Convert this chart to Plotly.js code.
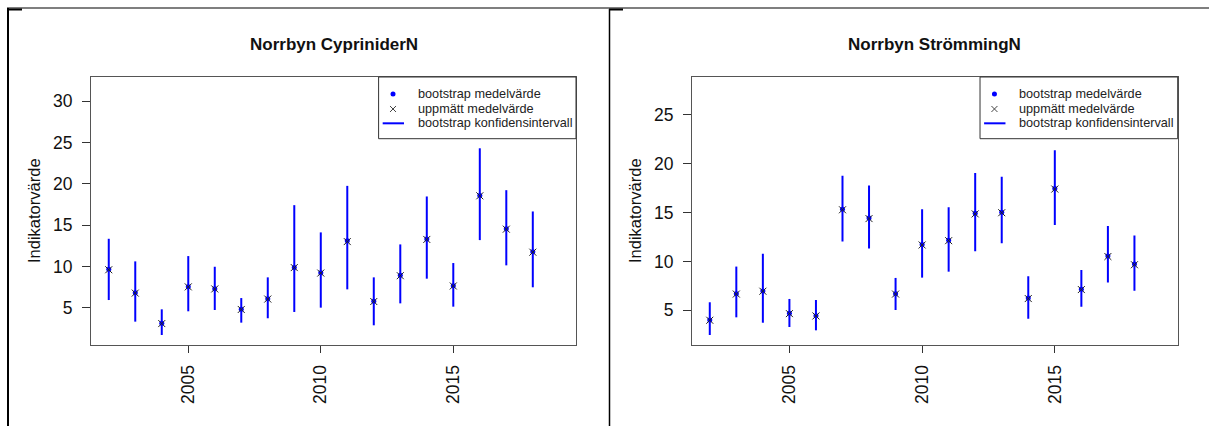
<!DOCTYPE html>
<html>
<head>
<meta charset="utf-8">
<script src="https://cdn.plot.ly/plotly-3.0.1.min.js"></script>
<style>html,body{margin:0;padding:0;background:#fff;}#chart{width:1209px;height:426px;}</style>
</head>
<body>
<div id="chart"></div>
<script>
// ---- data ----
const years = [2002,2003,2004,2005,2006,2007,2008,2009,2010,2011,2012,2013,2014,2015,2016,2017,2018];

const cypBoot = [9.67,6.85,3.15,7.57,7.33,4.84,6.12,9.90,9.26,13.12,5.81,8.94,13.32,7.69,18.59,14.56,11.79];
const cypObs  = [9.62,6.80,3.12,7.55,7.30,4.82,6.08,9.88,9.22,13.02,5.78,8.90,13.28,7.66,18.55,14.52,11.74];
const cypLo   = [5.96,3.35,1.74,4.60,4.76,3.23,3.76,4.52,5.04,7.25,2.91,5.56,8.54,5.16,13.20,10.15,7.50];
const cypHi   = [13.36,10.63,4.84,11.27,9.98,6.20,8.70,17.42,14.13,19.75,8.70,12.68,18.47,10.43,24.29,19.23,16.66];

const strBoot = [4.00,6.70,6.98,4.69,4.45,15.34,14.45,6.70,11.72,12.17,14.93,15.03,6.26,17.45,7.15,10.56,9.74];
const strObs  = [3.98,6.66,6.95,4.66,4.42,15.28,14.38,6.66,11.68,12.12,14.86,14.98,6.20,17.40,7.12,10.50,9.66];
const strLo   = [2.47,4.28,3.73,3.29,2.95,12.03,11.31,5.03,8.34,8.95,11.04,11.86,4.14,13.73,5.37,7.83,7.00];
const strHi   = [5.82,9.47,10.77,6.16,6.05,18.75,17.76,8.31,15.34,15.55,19.03,18.65,8.48,21.38,9.13,13.63,12.64];

const titles = ["Norrbyn CypriniderN", "Norrbyn StrömmingN"];
const yTitle = "Indikatorvärde";
const legendLabels = ["bootstrap medelvärde", "uppmätt medelvärde", "bootstrap konfidensintervall"];
const xTicks = [2005, 2010, 2015];
const yTicksLeft = [5,10,15,20,25,30];
const yTicksRight = [5,10,15,20,25];

// ---- helpers ----
const W = 1209, H = 426;
const px = v => v / W;
const py = v => 1 - v / H;
const FONT = "Liberation Sans, Arial, sans-serif";
const BLUE = "#0000ff";

function ciSegments(xs, lo, hi) {
  const x = [], y = [];
  xs.forEach((v, i) => { x.push(v, v, null); y.push(lo[i], hi[i], null); });
  return {x, y};
}

function panelTraces(xa, ya, boot, obs, lo, hi) {
  const seg = ciSegments(years, lo, hi);
  return [
    {x: seg.x, y: seg.y, xaxis: xa, yaxis: ya, mode: "lines", type: "scatter",
     line: {color: BLUE, width: 2}, showlegend: false, hoverinfo: "skip"},
    {x: years, y: boot, xaxis: xa, yaxis: ya, mode: "markers", type: "scatter",
     marker: {color: BLUE, size: 5, symbol: "circle"}, showlegend: false},
    {x: years, y: obs, xaxis: xa, yaxis: ya, mode: "markers", type: "scatter",
     marker: {color: "#222", size: 7, symbol: "x-thin-open", line: {color: "#222", width: 1}}, showlegend: false}
  ];
}

const data = [].concat(
  panelTraces("x", "y", cypBoot, cypObs, cypLo, cypHi),
  panelTraces("x2", "y2", strBoot, strObs, strLo, strHi)
);

function xAxis(domain) {
  return {
    domain: domain, range: [2001.33, 2019.63], tickvals: xTicks, ticktext: xTicks.map(String),
    tickangle: -90, ticks: "outside", ticklen: 7, tickcolor: "#333", tickwidth: 1,
    showline: true, mirror: true, linecolor: "#555", linewidth: 1,
    showgrid: false, zeroline: false, ticklabelstandoff: 5,
    tickfont: {family: FONT, size: 17.5, color: "#111"}
  };
}
function yAxis(range, ticks, anchor) {
  return {
    domain: [1 - 345 / H, 1 - 77 / H], range: range, tickvals: ticks, ticktext: ticks.map(String),
    ticks: "outside", ticklen: 8, tickcolor: "#333", tickwidth: 1, anchor: anchor,
    showline: true, mirror: true, linecolor: "#555", linewidth: 1,
    showgrid: false, zeroline: false, ticklabelstandoff: 6,
    tickfont: {family: FONT, size: 17.5, color: "#111"}
  };
}

// legend geometry in axis-domain fractions
const LG = {x0: 0.593, y0: 0.7698, dotX: 0.6227, lineX0: 0.6014, lineX1: 0.6454, textX: 0.6701,
            rows: [0.9366, 0.8806, 0.8272]};

function legendShapes(xr, yr) {
  const s = [];
  s.push({type: "rect", xref: xr, yref: yr, x0: LG.x0, x1: 1, y0: LG.y0, y1: 1,
          line: {color: "#333", width: 1}, fillcolor: "#fff", layer: "above"});
  s.push({type: "circle", xref: xr, yref: yr, xsizemode: "pixel", ysizemode: "pixel",
          xanchor: LG.dotX, yanchor: LG.rows[0], x0: -2.5, x1: 2.5, y0: -2.5, y1: 2.5,
          fillcolor: BLUE, line: {color: BLUE, width: 0}, layer: "above"});
  s.push({type: "line", xref: xr, yref: yr, xsizemode: "pixel", ysizemode: "pixel",
          xanchor: LG.dotX, yanchor: LG.rows[1], x0: -3, x1: 3, y0: -3, y1: 3,
          line: {color: "#444", width: 1}, layer: "above"});
  s.push({type: "line", xref: xr, yref: yr, xsizemode: "pixel", ysizemode: "pixel",
          xanchor: LG.dotX, yanchor: LG.rows[1], x0: -3, x1: 3, y0: 3, y1: -3,
          line: {color: "#444", width: 1}, layer: "above"});
  s.push({type: "line", xref: xr, yref: yr, x0: LG.lineX0, x1: LG.lineX1, y0: LG.rows[2], y1: LG.rows[2],
          line: {color: BLUE, width: 2}, layer: "above"});
  return s;
}
function legendAnn(xr, yr) {
  return legendLabels.map((t, i) => ({
    xref: xr, yref: yr, x: LG.textX, y: LG.rows[i], xanchor: "left", yanchor: "middle",
    text: t, showarrow: false, font: {family: FONT, size: 12.7, color: "#222"}
  }));
}

const xd1 = [px(91), px(576)], xd2 = [px(692), px(1177.7)];

const frame = [
  {type: "line", xref: "paper", yref: "paper", x0: px(7), x1: 1, y0: py(8), y1: py(8), line: {color: "#000", width: 1.2}},
  {type: "line", xref: "paper", yref: "paper", x0: px(8), x1: px(8), y0: py(8), y1: 0, line: {color: "#000", width: 2}},
  {type: "line", xref: "paper", yref: "paper", x0: px(609.5), x1: px(609.5), y0: py(9), y1: 0, line: {color: "#000", width: 1.5}},
  {type: "line", xref: "paper", yref: "paper", x0: px(7), x1: px(22), y0: py(9.5), y1: py(9.5), line: {color: "#000", width: 2}},
  {type: "line", xref: "paper", yref: "paper", x0: px(609), x1: px(623), y0: py(9.5), y1: py(9.5), line: {color: "#000", width: 2}}
];

const titleAnn = [
  {xref: "paper", yref: "paper", x: (xd1[0] + xd1[1]) / 2, y: py(44.5), xanchor: "center", yanchor: "middle",
   text: "<b>" + titles[0] + "</b>", showarrow: false, font: {family: FONT, size: 17, color: "#111"}},
  {xref: "paper", yref: "paper", x: (xd2[0] + xd2[1]) / 2, y: py(44.5), xanchor: "center", yanchor: "middle",
   text: "<b>" + titles[1] + "</b>", showarrow: false, font: {family: FONT, size: 17, color: "#111"}},
  {xref: "paper", yref: "paper", x: px(34), y: py(211), xanchor: "center", yanchor: "middle", textangle: -90,
   text: yTitle, showarrow: false, font: {family: FONT, size: 16.5, color: "#111"}},
  {xref: "paper", yref: "paper", x: px(635), y: py(211), xanchor: "center", yanchor: "middle", textangle: -90,
   text: yTitle, showarrow: false, font: {family: FONT, size: 16.5, color: "#111"}}
];

const layout = {
  width: W, height: H, margin: {l: 0, r: 0, t: 0, b: 0},
  paper_bgcolor: "#fff", plot_bgcolor: "#fff", showlegend: false,
  font: {family: FONT},
  xaxis: Object.assign(xAxis(xd1), {anchor: "y"}),
  yaxis: yAxis([0.53, 32.9], yTicksLeft, "x"),
  xaxis2: Object.assign(xAxis(xd2), {anchor: "y2"}),
  yaxis2: yAxis([1.45, 28.86], yTicksRight, "x2"),
  shapes: frame.concat(legendShapes("x domain", "y domain"), legendShapes("x2 domain", "y2 domain")),
  annotations: titleAnn.concat(legendAnn("x domain", "y domain"), legendAnn("x2 domain", "y2 domain"))
};

Plotly.newPlot("chart", data, layout, {displayModeBar: false, staticPlot: true});
</script>
</body>
</html>
